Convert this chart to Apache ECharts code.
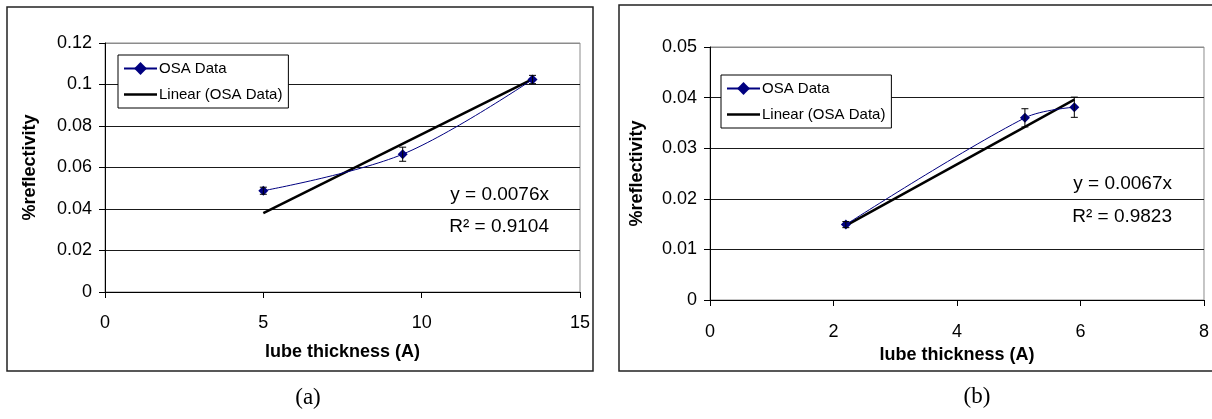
<!DOCTYPE html>
<html>
<head>
<meta charset="utf-8">
<script src="https://cdn.jsdelivr.net/npm/echarts@6/dist/echarts.min.js"></script>
<style>
html,body{margin:0;padding:0;background:#fff;}
#c{width:1212px;height:419px;}
</style>
</head>
<body>
<div id="c"></div>
<script>
// ---- data: panel (a)
const thickA = [5.0, 9.4, 13.5];
const reflA = [0.0488, 0.0664, 0.1024];
const errA = [0.0017, 0.0034, 0.0020];
const trendA = [[5.0, 0.038], [13.5, 0.1026]];
const eqA = ['y = 0.0076x', 'R² = 0.9104'];
// ---- data: panel (b)
const thickB = [2.2, 5.1, 5.9];
const reflB = [0.0149, 0.0360, 0.0381];
const errB = [0.0006, 0.0018, 0.0020];
const trendB = [[2.2, 0.0147], [5.9, 0.0396]];
const eqB = ['y = 0.0067x', 'R² = 0.9823'];
// ---- shared text
const seriesName = 'OSA Data';
const trendName = 'Linear (OSA Data)';
const xTitle = 'lube thickness (A)';
const yTitle = '%reflectivity';
const panelLabels = ['(a)', '(b)'];

const FONT = '"Liberation Sans", Arial, sans-serif';
const chart = echarts.init(document.getElementById('c'), null, {renderer: 'canvas'});

function pts(xs, ys) { return xs.map((x, i) => [x, ys[i]]); }
function errPts(xs, ys, es) { return xs.map((x, i) => [x, ys[i], es[i]]); }

function errRender(params, api) {
  const x = api.value(0), y = api.value(1), e = api.value(2);
  const top = api.coord([x, y + e]);
  const bot = api.coord([x, y - e]);
  const cap = 3.5;
  const st = {stroke: '#000', lineWidth: 1};
  return {
    type: 'group',
    children: [
      {type: 'line', shape: {x1: top[0], y1: top[1], x2: bot[0], y2: bot[1]}, style: st},
      {type: 'line', shape: {x1: top[0] - cap, y1: top[1], x2: top[0] + cap, y2: top[1]}, style: st},
      {type: 'line', shape: {x1: bot[0] - cap, y1: bot[1], x2: bot[0] + cap, y2: bot[1]}, style: st}
    ]
  };
}

function xAxis(idx, max, interval, margin, gap) {
  return {
    type: 'value', gridIndex: idx, min: 0, max: max, interval: interval,
    name: xTitle, nameLocation: 'middle', nameGap: gap,
    nameTextStyle: {fontFamily: FONT, fontWeight: 'bold', fontSize: 18, color: '#000'},
    axisLine: {show: true, onZero: false, lineStyle: {color: '#000', width: 1}},
    axisTick: {show: true, inside: false, length: 6, lineStyle: {color: '#000'}},
    axisLabel: {fontFamily: FONT, fontSize: 18, color: '#000', margin: margin},
    splitLine: {show: false}
  };
}
function yAxis(idx, max, interval, nLines, gap) {
  const cols = [];
  for (let i = 0; i < nLines - 1; i++) cols.push('#1a1a1a');
  cols.push('#8c8c8c');
  return {
    type: 'value', gridIndex: idx, min: 0, max: max, interval: interval,
    name: yTitle, nameLocation: 'middle', nameGap: gap, nameRotate: 90,
    nameTextStyle: {fontFamily: FONT, fontWeight: 'bold', fontSize: 18, color: '#000'},
    axisLine: {show: true, onZero: false, lineStyle: {color: '#000', width: 1}},
    axisTick: {show: true, inside: false, length: 6, lineStyle: {color: '#000'}},
    axisLabel: {fontFamily: FONT, fontSize: 18, color: '#000', margin: 13},
    splitLine: {show: true, lineStyle: {color: cols, width: 1}}
  };
}
function legend(left, top) {
  return {
    orient: 'vertical', left: left, top: top,
    data: [
      {name: seriesName},
      {name: trendName, icon: 'path://M0,0 L33,0 L33,2.5 L0,2.5 Z', itemStyle: {color: '#000'}}
    ],
    backgroundColor: '#fff', borderColor: '#000', borderWidth: 1,
    padding: [6, 6, 6, 5], itemGap: 11, itemWidth: 33, itemHeight: 16,
    textStyle: {fontFamily: FONT, fontSize: 15, color: '#000', padding: [0, 0, 0, -3]},
    selectedMode: false
  };
}
function dataSeries(idx, data) {
  return {
    name: seriesName, type: 'line', xAxisIndex: idx, yAxisIndex: idx, data: data,
    smooth: 0.35, symbol: 'diamond', symbolSize: 10, z: 4,
    lineStyle: {color: '#000080', width: 1}, itemStyle: {color: '#000080'}
  };
}
function trendSeries(idx, data) {
  return {
    name: trendName, type: 'line', xAxisIndex: idx, yAxisIndex: idx, data: data,
    symbol: 'none', showSymbol: false, z: 3,
    lineStyle: {color: '#000', width: 2.5}, itemStyle: {color: '#000'}
  };
}
function errSeries(idx, data) {
  return {
    type: 'custom', xAxisIndex: idx, yAxisIndex: idx, data: data, z: 5,
    renderItem: errRender, silent: true
  };
}

const option = {
  backgroundColor: '#fff',
  animation: false,
  grid: [
    {left: 105, top: 43, width: 475, height: 249, show: true, borderColor: '#8c8c8c', borderWidth: 1, backgroundColor: '#fff'},
    {left: 710, top: 47, width: 496, height: 253, show: true, borderColor: '#8c8c8c', borderWidth: 1, backgroundColor: '#fff'}
  ],
  xAxis: [xAxis(0, 15, 5, 22, 51), xAxis(1, 8, 2, 23, 43)],
  yAxis: [yAxis(0, 0.12, 0.02, 7, 66), yAxis(1, 0.05, 0.01, 6, 64)],
  legend: [legend(118, 55), legend(721, 75)],
  series: [
    trendSeries(0, trendA), dataSeries(0, pts(thickA, reflA)), errSeries(0, errPts(thickA, reflA, errA)),
    trendSeries(1, trendB), dataSeries(1, pts(thickB, reflB)), errSeries(1, errPts(thickB, reflB, errB))
  ],
  graphic: [
    {type: 'rect', shape: {x: 7, y: 7, width: 586, height: 364}, style: {fill: null, stroke: '#222', lineWidth: 1.5}, z: 0, silent: true},
    {type: 'rect', shape: {x: 619, y: 5, width: 620, height: 366}, style: {fill: null, stroke: '#222', lineWidth: 1.5}, z: 0, silent: true},
    {type: 'text', x: 549, y: 195, z: 20, style: {text: eqA[0], fontFamily: FONT, fontSize: 19, fill: '#000', align: 'right', verticalAlign: 'middle'}},
    {type: 'text', x: 549, y: 227, z: 20, style: {text: eqA[1], fontFamily: FONT, fontSize: 19, fill: '#000', align: 'right', verticalAlign: 'middle'}},
    {type: 'text', x: 1172, y: 184, z: 20, style: {text: eqB[0], fontFamily: FONT, fontSize: 19, fill: '#000', align: 'right', verticalAlign: 'middle'}},
    {type: 'text', x: 1172, y: 217, z: 20, style: {text: eqB[1], fontFamily: FONT, fontSize: 19, fill: '#000', align: 'right', verticalAlign: 'middle'}},
    {type: 'text', x: 308, y: 398, z: 20, style: {text: panelLabels[0], fontFamily: '"Liberation Serif", "Times New Roman", serif', fontSize: 23, fill: '#000', align: 'center', verticalAlign: 'middle'}},
    {type: 'text', x: 977, y: 397, z: 20, style: {text: panelLabels[1], fontFamily: '"Liberation Serif", "Times New Roman", serif', fontSize: 23, fill: '#000', align: 'center', verticalAlign: 'middle'}}
  ]
};
chart.setOption(option);
</script>
</body>
</html>
